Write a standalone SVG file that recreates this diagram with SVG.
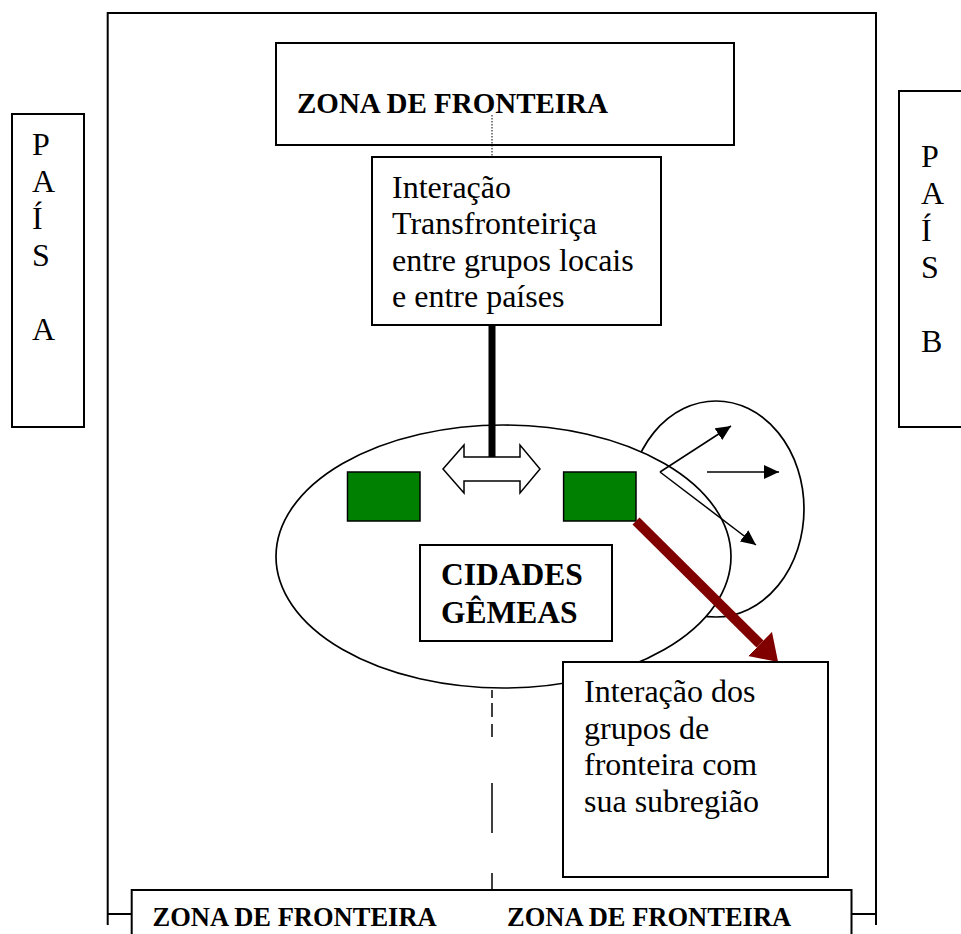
<svg xmlns="http://www.w3.org/2000/svg" width="961" height="934" viewBox="0 0 961 934">
  <style>
    .box { fill: #ffffff; stroke: #000000; stroke-width: 2; }
    .frame { fill: none; stroke: #000000; stroke-width: 2; }
    .ell { fill: #ffffff; stroke: #000000; stroke-width: 1.7; }
    .city { fill: #008000; stroke: #000000; stroke-width: 1.5; }
    .txt { font-family: "Liberation Serif", "Times New Roman", serif; font-size: 32px; fill: #000000; }
    .bold { font-family: "Liberation Serif", "Times New Roman", serif; font-weight: bold; fill: #000000; }
    .thin { stroke: #000000; stroke-width: 1.5; fill: none; }
  </style>
  <defs>
    <marker id="arrowBlack" markerUnits="userSpaceOnUse" markerWidth="16" markerHeight="14" refX="15" refY="7" orient="auto">
      <path d="M0,0 L15,7 L0,14 z" fill="#000000"/>
    </marker>
    <marker id="arrowRed" markerUnits="userSpaceOnUse" markerWidth="27" markerHeight="34" refX="0" refY="17" orient="auto">
      <path d="M0,0 L25.5,17 L0,34 z" fill="#800000"/>
    </marker>
  </defs>
  <rect x="0" y="0" width="961" height="934" fill="#ffffff"/>

  <g id="frame">
    <path class="frame" d="M107.7,925 V13 H876 V925"/>
    <path class="frame" d="M107.7,914 H131.7 M851.5,914 H876"/>
  </g>

  <g id="pais-a">
    <rect class="box" x="12" y="114" width="72" height="313"/>
    <text class="txt" x="32" y="155">P</text>
    <text class="txt" x="32" y="192">A</text>
    <text class="txt" x="32" y="229">Í</text>
    <text class="txt" x="32" y="266">S</text>
    <text class="txt" x="32" y="340">A</text>
  </g>

  <g id="pais-b">
    <rect class="box" x="899" y="91" width="80" height="336"/>
    <text class="txt" x="921" y="167">P</text>
    <text class="txt" x="921" y="204">A</text>
    <text class="txt" x="921" y="241">Í</text>
    <text class="txt" x="921" y="278">S</text>
    <text class="txt" x="921" y="352">B</text>
  </g>

  <g id="zona-top">
    <rect class="box" x="276" y="43" width="458" height="102"/>
    <text class="bold" x="297" y="113" font-size="29">ZONA DE FRONTEIRA</text>
  </g>

  <g id="interacao-transfronteirica">
    <rect class="box" x="372" y="157" width="289" height="168"/>
    <text class="txt" x="392" y="198">Interação</text>
    <text class="txt" x="392" y="234">Transfronteiriça</text>
    <text class="txt" x="392" y="270.5">entre grupos locais</text>
    <text class="txt" x="392" y="306.5">e entre países</text>
  </g>

  <g id="subregiao-ellipse">
    <ellipse class="ell" cx="716" cy="509" rx="88" ry="108"/>
  </g>

  <g id="cidades-gemeas-ellipse">
    <ellipse class="ell" cx="503.5" cy="556.5" rx="227.5" ry="131.5"/>
  </g>

  <g id="cidade-1">
    <rect class="city" x="347.5" y="472" width="72.5" height="49"/>
  </g>

  <g id="cidade-2">
    <rect class="city" x="563.6" y="472" width="72.4" height="49"/>
  </g>

  <g id="cidades-gemeas">
    <rect class="box" x="420" y="545" width="192" height="96"/>
    <text class="bold" x="441" y="585" font-size="31.5">CIDADES</text>
    <text class="bold" x="441" y="623" font-size="31.5">GÊMEAS</text>
  </g>

  <g id="connectors">
    <line x1="492" y1="115" x2="492" y2="157" stroke="#000000" stroke-width="1" stroke-dasharray="1.5,1.5"/>
    <line x1="492" y1="325" x2="492" y2="457" stroke="#000000" stroke-width="7"/>
    <polygon points="443,469 464,445 464,457 520,457 520,445 540,469 520,493 520,481 464,481 464,493" fill="#ffffff" stroke="#000000" stroke-width="1.5"/>
    <line class="thin" x1="660" y1="472" x2="731" y2="426" marker-end="url(#arrowBlack)"/>
    <line class="thin" x1="660" y1="472" x2="756" y2="545" marker-end="url(#arrowBlack)"/>
    <line class="thin" x1="707" y1="472" x2="779" y2="472" marker-end="url(#arrowBlack)"/>
    <line x1="636" y1="521" x2="760" y2="644" stroke="#800000" stroke-width="10" marker-end="url(#arrowRed)"/>
    <path d="M492,690 V698 M492,703 V717 M492,724 V737 M492,783 V833 M492,873 V890" stroke="#000000" stroke-width="1.5" fill="none"/>
  </g>

  <g id="interacao-subregiao">
    <rect class="box" x="563" y="662" width="265" height="215"/>
    <text class="txt" x="584" y="702">Interação dos</text>
    <text class="txt" x="584" y="738.5">grupos de</text>
    <text class="txt" x="584" y="775">fronteira com</text>
    <text class="txt" x="584" y="811.5">sua subregião</text>
  </g>

  <g id="zona-bottom">
    <rect class="box" x="131.7" y="890" width="719.8" height="80"/>
    <text class="bold" x="152.5" y="926" font-size="26.5">ZONA DE FRONTEIRA</text>
    <text class="bold" x="507" y="926" font-size="26.5">ZONA DE FRONTEIRA</text>
  </g>
</svg>
